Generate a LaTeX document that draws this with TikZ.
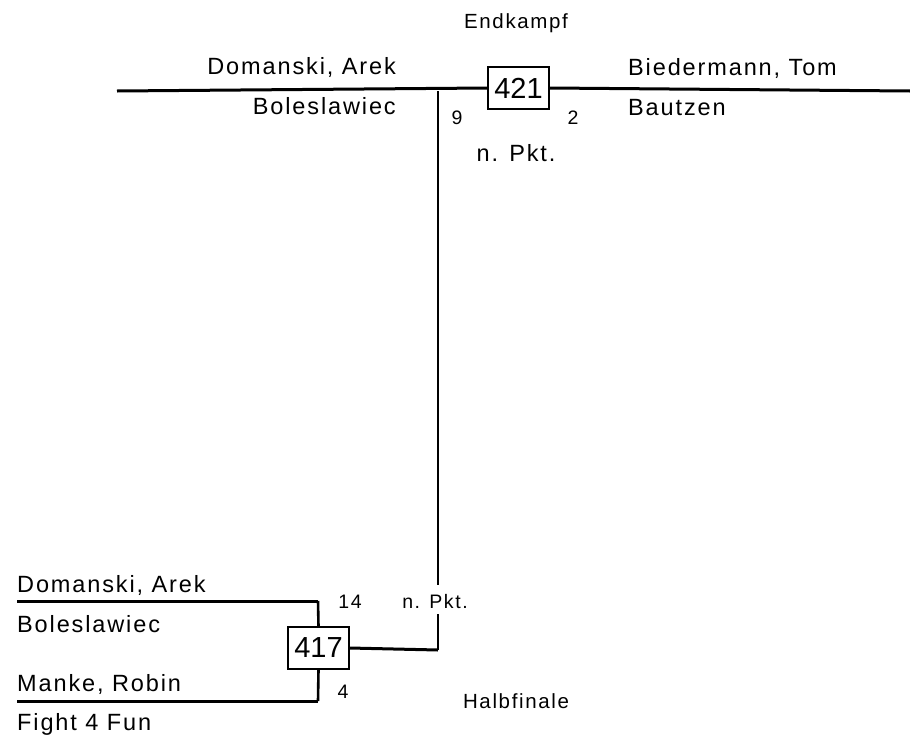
\documentclass[tikz,border=0pt]{standalone}
\usepackage{fontspec}
\setmainfont{Liberation Sans}
\newfontfamily\lsp{Liberation Sans}[LetterSpace=8]
\newfontfamily\plainf{Liberation Sans}
\begin{document}
\begin{tikzpicture}[x=1pt,y=-1pt,
  bline/.style={line width=3pt},
  vline/.style={line width=2.6pt},
  matchbox/.style={draw,line width=1.2pt,fill=white,minimum width=61pt,minimum height=42pt,inner sep=0pt,font=\plainf\fontsize{29}{30}\selectfont},
  pname/.style={inner sep=0pt,font=\lsp\fontsize{23.5}{25}\selectfont},
  pscore/.style={inner sep=0pt,font=\lsp\fontsize{19.5}{21}\selectfont},
  ptitle/.style={inner sep=0pt,font=\lsp\fontsize{20.5}{22}\selectfont}]
\useasboundingbox (0,0) rectangle (910,739);
% --- final ---
\node[ptitle,anchor=base] (endk) at (516,28) {Endkampf};
\node[matchbox] (b421) at (518.5,88) {421};
\coordinate (tl) at (117,91);
\coordinate (tr) at (910,91);
\coordinate (j1) at (438,91);
\coordinate (j1e) at (438,585);
\draw[bline] (tl) -- (b421.west);
\draw[bline] (b421.east) -- (tr);
\draw[vline] (j1) -- (j1e);
\node[pname,anchor=base east] (n1) at (396,74) {Domanski, Arek};
\node[pname,anchor=base east] (c1) at (396,114) {Boleslawiec};
\node[pname,anchor=base west] (n2) at (628,75) {Biedermann, Tom};
\node[pname,anchor=base west] (c2) at (628,115) {Bautzen};
\node[pscore,anchor=base] (s1) at (457,124) {9};
\node[pscore,anchor=base] (s2) at (573,124) {2};
\node[pname,anchor=base] (np1) at (516,161) {n. Pkt.};
% --- semifinal ---
\node[matchbox] (b417) at (318.5,648) {417};
\coordinate (l1) at (17,601);
\coordinate (l1c) at (318,601);
\coordinate (l2) at (17,701);
\coordinate (l2c) at (318,701);
\coordinate (r1) at (438,650);
\coordinate (r1e) at (438,614);
\draw[bline] (l1) -- (l1c);
\draw[vline] (l1c) -- (b417.north);
\draw[bline] (l2) -- (l2c);
\draw[vline] (l2c) -- (b417.south);
\draw[bline] (b417.east) -- (r1);
\draw[vline] (r1) -- (r1e);
\node[pname,anchor=base west] (m1) at (17,592) {Domanski, Arek};
\node[pname,anchor=base west] (k1) at (17,632) {Boleslawiec};
\node[pname,anchor=base west] (m2) at (17,691) {Manke, Robin};
\node[pname,anchor=base west] (k2) at (17,730) {Fight 4 Fun};
\node[pscore,anchor=base] (t1) at (350,608) {14};
\node[pscore,anchor=base] (t2) at (343,698) {4};
\node[pscore,anchor=base] (np2) at (435,608) {n. Pkt.};
\node[ptitle,anchor=base] (halb) at (516,708) {Halbfinale};
\end{tikzpicture}
\end{document}
